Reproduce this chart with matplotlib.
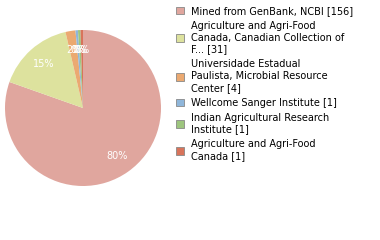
import math
import matplotlib
matplotlib.use("Agg")
import matplotlib.pyplot as plt
from matplotlib.patches import Patch

labels = [
    "Mined from GenBank, NCBI [156]",
    "Agriculture and Agri-Food\nCanada, Canadian Collection of\nF... [31]",
    "Universidade Estadual\nPaulista, Microbial Resource\nCenter [4]",
    "Wellcome Sanger Institute [1]",
    "Indian Agricultural Research\nInstitute [1]",
    "Agriculture and Agri-Food\nCanada [1]",
]
counts = [156, 31, 4, 1, 1, 1]
colors = ["#e0a69e", "#dde29e", "#eba971", "#8fb6da", "#9dc57e", "#d8745b"]

def pct(p):
    return "%d%%" % math.floor(p + 1e-9)

fig = plt.figure(figsize=(3.8, 2.4), dpi=100)
ax = fig.add_axes([5/380, 54/240, 156/380, 156/240])
wedges, texts, autotexts = ax.pie(
    counts, colors=colors, startangle=90, counterclock=False,
    autopct=pct, pctdistance=0.75,
    textprops=dict(color="white", fontsize=7),
    wedgeprops=dict(linewidth=0),
)
ax.set_xlim(-1, 1)
ax.set_ylim(-1, 1)
ax.set_aspect("equal")

handles = [Patch(facecolor=c, edgecolor="#888888", linewidth=0.6) for c in colors]
leg = fig.legend(handles, labels, loc="upper left", bbox_to_anchor=(172/380, 1 - 2/240),
                 frameon=False, fontsize=7, handlelength=0.85, handleheight=0.85,
                 handletextpad=0.7, labelspacing=0.48, borderaxespad=0)
for t in leg.get_texts():
    t.set_linespacing(1.25)

fig.savefig("out.png", dpi=100)
